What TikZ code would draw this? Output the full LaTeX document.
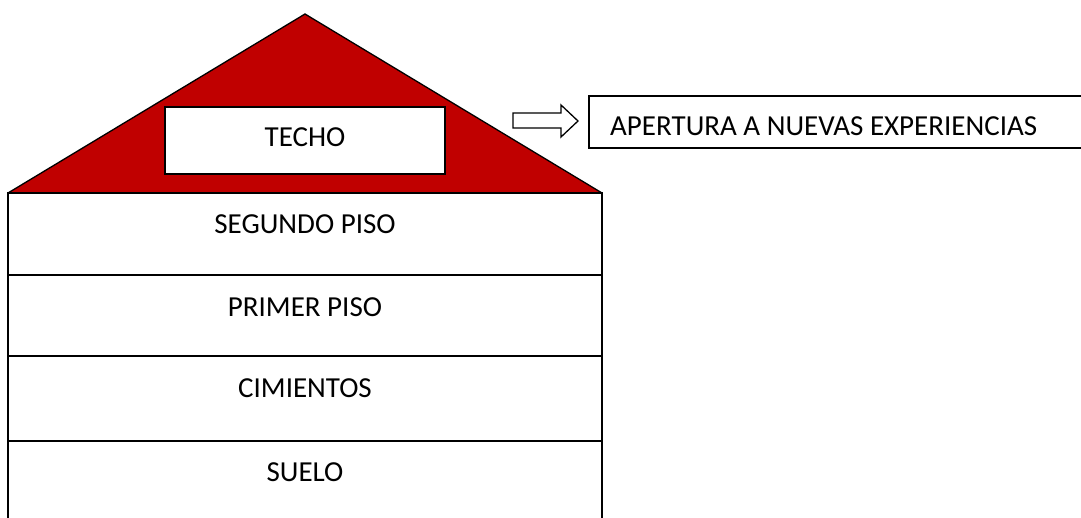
\documentclass[tikz,border=0pt]{standalone}
\usepackage{fontspec}
\setmainfont{Carlito}
\definecolor{roofred}{HTML}{C00000}
\begin{document}
\begin{tikzpicture}[x=1pt,y=-1pt,
  lbl/.style={font=\fontsize{29}{34}\selectfont, inner sep=0pt, anchor=center},
  edge/.style={draw=black, line width=1.8pt},
  thin edge/.style={draw=black, line width=1.3pt}]
\useasboundingbox (0,0) rectangle (1081,518);
% roof
\coordinate (apex) at (305,14);
\coordinate (rl) at (8,193);
\coordinate (rr) at (602,193);
\fill[roofred] (rl) -- (apex) -- (rr) -- cycle;
\draw[thin edge, line join=miter] (rl) -- (apex) -- (rr);
% techo box
\draw[edge, fill=white] (165,107) rectangle (445,174);
\node[lbl] (techo) at (305,137) {TECHO};
% house body
\coordinate (bl) at (8,530);
\coordinate (br) at (602,530);
\draw[edge] (bl) -- (rl) -- (rr) -- (br);
\draw[edge] (8,275) -- (602,275);
\draw[edge] (8,356) -- (602,356);
\draw[edge] (8,441) -- (602,441);
\node[lbl] (seg) at (305,224) {SEGUNDO PISO};
\node[lbl] (pri) at (305,307) {PRIMER PISO};
\node[lbl] (cim) at (305,388) {CIMIENTOS};
\node[lbl] (sue) at (305,472) {SUELO};
% right box
\draw[thin edge] (1090,96) -- (589,96) -- (589,148) -- (1090,148);
\node[lbl, anchor=west] (aper) at (610,126) {APERTURA A NUEVAS EXPERIENCIAS};
% arrow
\draw[line width=1.3pt, line join=miter] (513,113) -- (561,113) -- (561,105) -- (578,121) -- (561,137) -- (561,128) -- (513,128) -- cycle;
\end{tikzpicture}
\end{document}
